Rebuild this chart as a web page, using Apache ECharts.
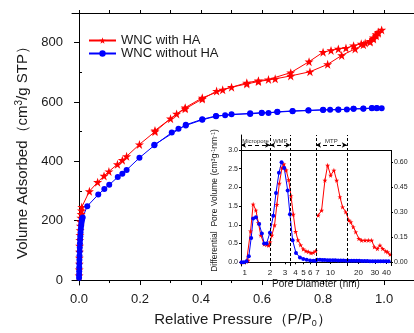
<!DOCTYPE html>
<html><head><meta charset="utf-8">
<script src="https://cdn.jsdelivr.net/npm/echarts@6/dist/echarts.min.js"></script>
<style>html,body{margin:0;padding:0;background:#fff}#c{width:414px;height:333px}</style>
</head><body><div id="c"></div>
<script>
// ---------- Main isotherm data ----------
const seriesNames = ['WNC with HA', 'WNC without HA'];
const redAdsP = [0.0003,0.0006,0.0009,0.0012,0.0016,0.002,0.0025,0.003,0.0036,0.0043,0.005,0.006,0.007,0.008,0.009,0.034,0.061,0.082,0.098,0.126,0.142,0.156,0.198,0.249,0.300,0.320,0.348,0.404,0.451,0.500,0.550,0.588,0.643,0.694,0.757,0.815,0.861,0.905,0.932,0.954,0.965,0.974,0.981,0.992];
const redAdsV = [15,35,55,75,95,115,135,152,168,183,197,210,222,234,246,299,330,351,366,390,404,417,457,500,544,560,577,610,637,650,661,669,678,688,702,727,757,779,793,802,812,823,832,843];
const redDesP = [0.981,0.974,0.965,0.954,0.938,0.925,0.900,0.875,0.850,0.826,0.800,0.754,0.694,0.621,0.588,0.550,0.471,0.404,0.348,0.249];
const redDesV = [836,828,817,805,799,796,790,782,779,774,768,736,699,676,672,665,641,614,581,504];
const blueAdsP = [0.0002,0.0004,0.0006,0.0008,0.001,0.0013,0.0016,0.002,0.0025,0.003,0.0036,0.0043,0.005,0.006,0.007,0.008,0.009,0.010,0.012,0.027,0.063,0.083,0.099,0.127,0.142,0.156,0.198,0.247,0.304,0.326,0.350,0.404,0.449,0.500,0.561,0.599,0.650,0.700,0.752,0.800,0.850,0.900,0.932,0.960,0.976,0.992];
const blueAdsV = [8,18,30,42,55,68,82,96,110,123,136,148,160,172,183,192,200,206,211,249,288,307,321,347,358,371,412,454,497,510,521,540,552,559,560,563,566,569,571,573,574,577,577,579,579,579];
const blueDesP = [0.976,0.960,0.932,0.900,0.878,0.850,0.823,0.800,0.752,0.700,0.650,0.621,0.599,0.561,0.479,0.449,0.404,0.350,0.247];
const blueDesV = [580,580,578,577,575,575,574,574,572,570,567,563,564,562,555,553,542,523,456];

const mainXTicks = [0,0.2,0.4,0.6,0.8,1.0];
const mainXMinorTicks = [0.1,0.3,0.5,0.7,0.9];
const mainXTopTicks = [0,0.1,0.2,0.3,0.4,0.5,0.6,0.7,0.8,0.9,1.0];
const mainYTicks = [0,200,400,600,800];
const mainYMinorTicks = [100,300,500,700,900];

// ---------- Inset: pore size distribution ----------
const psdRedLeftD = [0.913,1.048,1.095,1.17,1.256,1.354,1.45,1.55,1.70,1.82,1.93,2.00,2.10,2.26,2.41,2.58,2.77,2.92,3.11,3.33,3.55,3.78,4.03,4.30,4.62,4.97,5.35,5.71,6.14,6.54,6.99];
const psdRedLeftV = [0.0,0.02,0.05,0.83,1.55,1.39,1.05,0.72,0.48,0.47,0.45,0.54,0.72,0.99,1.54,2.11,2.52,2.62,2.46,2.20,1.77,1.28,0.82,0.59,0.46,0.35,0.30,0.28,0.25,0.26,0.30];
const psdBlueLeftD = [0.913,0.973,1.048,1.116,1.19,1.256,1.354,1.482,1.596,1.70,1.816,1.99,2.18,2.35,2.55,2.74,2.95,3.24,3.45,3.71,4.07,4.54,4.97,5.46,6.0,6.55,6.96];
const psdBlueLeftV = [0.0,0.0,0.03,0.16,0.65,1.17,1.20,1.02,0.77,0.50,0.50,0.79,1.24,1.85,2.39,2.67,2.52,1.92,1.28,0.59,0.25,0.13,0.09,0.07,0.05,0.04,0.04];
const psdRedRightD = [7.39,8.04,8.73,9.33,10.05,10.9,11.66,12.65,13.5,14.6,15.8,16.6,17.6,18.7,20.2,21.6,23.5,25.5,27.7,29.6,31.9,34.0,36.4,39.2,41.2,43.7];
const psdRedRightV = [0.28,0.31,0.49,0.58,0.52,0.55,0.49,0.39,0.33,0.30,0.25,0.24,0.21,0.18,0.14,0.13,0.13,0.13,0.13,0.09,0.08,0.10,0.08,0.065,0.06,0.045];
const psdBlueRightD = [7.2,7.7,8.2,8.7,9.3,9.9,10.6,11.3,12.1,12.9,13.8,14.7,15.7,16.8,17.9,19.1,20.4,21.8,23.3,24.9,26.6,28.4,30.3,32.4,34.6,37.0,39.5,42.2];
const psdBlueRightV = [0.014,0.013,0.012,0.012,0.011,0.011,0.010,0.010,0.009,0.009,0.009,0.008,0.008,0.008,0.007,0.007,0.007,0.006,0.006,0.006,0.005,0.005,0.005,0.005,0.004,0.004,0.004,0.004];

const insetLeftXTicks = [1,2,3,4,5,6,7];
const insetRightXTicks = [7,10,20,30,40];
const insetLeftYTicks = [0,0.5,1.0,1.5,2.0,2.5,3.0];
const insetRightYTicks = [0,0.15,0.30,0.45,0.60];
const poreBounds = [2, 3.5, 15];
const poreLabels = ['Micropore', 'WMP', 'MTP'];

// ---------- helpers ----------
const zip = (a, b) => a.map((v, i) => [v, b[i]]);
const FONT = '"Liberation Sans", Arial, sans-serif';
const TXT = '#1a1a1a';
const STAR = 'path://M50 0L61.8 35.1L98.9 35.1L69 56.9L80.3 92L50 70.2L19.7 92L31 56.9L1.1 35.1L38.2 35.1Z';
const RED = '#ff0000', BLUE = '#0000ff';

// axis ranges
const mainX = [-0.023, 1.098], mainY = [-16.7, 900];
const lX = [0.9, 7.05], rX = [7, 44.7];
const lY = [-0.1, 3.4], rY = [-0.024, 0.762];
const lTop = 3.0, rTop = 0.672, lBr = 3.13, rBr = 0.702;

const lineAx = {show: true, lineStyle: {color: '#000', width: 1}};

const chart = echarts.init(document.getElementById('c'), null, {renderer: 'canvas'});
const dashed = {color: '#000', width: 1, type: [3, 2]};
const solid = {color: '#000', width: 1, type: 'solid'};
const bracket = (a, b, y, txt) => [
  {coord: [a, y], symbol: 'arrow', symbolSize: [4, 5], lineStyle: {color: '#000', width: 1, type: [4, 3]},
   label: {show: true, formatter: txt, position: 'insideMiddleTop', fontSize: 6, color: '#333', fontFamily: FONT, distance: 1}},
  {coord: [b, y], symbol: 'arrow', symbolSize: [4, 5]}
];

chart.setOption({
  animation: false,
  backgroundColor: '#fff',
  textStyle: {fontFamily: FONT},
  grid: [
    {left: 72, top: 13, right: 0, bottom: 45},
    {left: 241, top: 135, width: 75, height: 131},
    {left: 316, top: 135, width: 75, height: 131}
  ],
  legend: {
    data: seriesNames, orient: 'vertical', left: 83, top: 29, itemWidth: 27, itemHeight: 8, itemGap: 0,
    textStyle: {fontSize: 13, color: TXT, fontFamily: FONT}
  },
  xAxis: [
    {type: 'value', gridIndex: 0, min: mainX[0], max: mainX[1], position: 'bottom',
     axisLine: lineAx, splitLine: {show: false},
     axisTick: {show: true, customValues: mainXTicks, length: 5, lineStyle: {color: '#000'}},
     axisLabel: {customValues: mainXTicks, formatter: v => v.toFixed(1), fontSize: 13, color: TXT, margin: 8},
     name: 'Relative Pressure（P/P{sub|0}）', nameLocation: 'middle', nameGap: 26,
     nameTextStyle: {fontSize: 15, color: TXT, rich: {sub: {fontSize: 9, verticalAlign: 'bottom', padding: [8, 0, 0, 0]}}}},
    {type: 'value', gridIndex: 0, min: mainX[0], max: mainX[1], position: 'bottom',
     axisLine: {show: false}, splitLine: {show: false}, axisLabel: {show: false},
     axisTick: {show: true, customValues: mainXMinorTicks, length: 3, lineStyle: {color: '#000'}}},
    {type: 'value', gridIndex: 0, min: mainX[0], max: mainX[1], position: 'top',
     axisLine: lineAx, splitLine: {show: false}, axisLabel: {show: false},
     axisTick: {show: true, customValues: mainXTopTicks, length: 3, lineStyle: {color: '#000'}}},
    {type: 'log', logBase: 10, gridIndex: 1, min: lX[0], max: lX[1],
     axisLine: lineAx, splitLine: {show: false}, minorTick: {show: false},
     axisTick: {show: true, customValues: insetLeftXTicks, length: 2, lineStyle: {color: '#000'}},
     axisLabel: {customValues: insetLeftXTicks, fontSize: 8, color: TXT, margin: 3, hideOverlap: false,
       formatter: v => (v === 7 ? '{s|7}' : String(v)), rich: {s: {fontSize: 8, padding: [0, 7, 0, 0]}}},
     name: 'Pore Diameter (nm)', nameLocation: 'middle', nameGap: 13,
     nameTextStyle: {fontSize: 10, color: TXT, padding: [0, 0, 0, 75]}},
    {type: 'log', logBase: 10, gridIndex: 2, min: rX[0], max: rX[1],
     axisLine: lineAx, splitLine: {show: false}, minorTick: {show: false},
     axisTick: {show: true, customValues: insetRightXTicks, length: 2, lineStyle: {color: '#000'}},
     axisLabel: {customValues: insetRightXTicks, fontSize: 8, color: TXT, margin: 3, showMinLabel: true, hideOverlap: false,
       formatter: v => (v === 7 ? '{s|7}' : String(v)), rich: {s: {fontSize: 8, padding: [0, 0, 0, 3]}}}}
  ],
  yAxis: [
    {type: 'value', gridIndex: 0, min: mainY[0], max: mainY[1],
     axisLine: lineAx, splitLine: {show: false},
     axisTick: {show: true, customValues: mainYTicks, length: 5, lineStyle: {color: '#000'}},
     axisLabel: {customValues: mainYTicks, fontSize: 13, color: TXT, margin: 9},
     name: 'Volume Adsorbed（cm{sup|3}/g STP）', nameLocation: 'middle', nameGap: 40,
     nameTextStyle: {fontSize: 15, color: TXT, rich: {sup: {fontSize: 10, verticalAlign: 'top', padding: [0, 0, 8, 0]}}}},
    {type: 'value', gridIndex: 0, min: mainY[0], max: mainY[1],
     axisLine: {show: false}, splitLine: {show: false}, axisLabel: {show: false},
     axisTick: {show: true, customValues: mainYMinorTicks, length: 3, lineStyle: {color: '#000'}}},
    {type: 'value', gridIndex: 1, min: lY[0], max: lY[1],
     axisLine: lineAx, splitLine: {show: false},
     axisTick: {show: true, customValues: insetLeftYTicks, length: 2, lineStyle: {color: '#000'}},
     axisLabel: {customValues: insetLeftYTicks, formatter: v => v.toFixed(1), fontSize: 7, color: TXT, margin: 3},
     name: 'Differential  Pore Volume (cm{sup|3}g{sup|-1}nm{sup|-1})', nameLocation: 'middle', nameGap: 21,
     nameTextStyle: {fontSize: 8.5, color: TXT, rich: {sup: {fontSize: 5.5, verticalAlign: 'top', padding: [0, 0, 4, 0]}}}},
    {type: 'value', gridIndex: 2, position: 'right', min: rY[0], max: rY[1],
     axisLine: {show: false}, splitLine: {show: false},
     axisTick: {show: true, customValues: insetRightYTicks, length: 2, lineStyle: {color: '#000'}},
     axisLabel: {customValues: insetRightYTicks, formatter: v => v.toFixed(2), fontSize: 7, color: TXT, margin: 3}}
  ],
  series: [
    {name: seriesNames[0], type: 'line', xAxisIndex: 0, yAxisIndex: 0,
     data: zip(redAdsP, redAdsV).concat(zip(redDesP, redDesV)),
     symbol: STAR, symbolSize: 9, lineStyle: {color: RED, width: 1}, itemStyle: {color: RED}},
    {name: seriesNames[1], type: 'line', xAxisIndex: 0, yAxisIndex: 0,
     data: zip(blueAdsP, blueAdsV).concat(zip(blueDesP, blueDesV)),
     symbol: 'circle', symbolSize: 6, lineStyle: {color: BLUE, width: 1}, itemStyle: {color: BLUE}},
    {name: 'psdRedL', type: 'line', xAxisIndex: 3, yAxisIndex: 2, clip: false,
     data: zip(psdRedLeftD, psdRedLeftV), symbol: STAR, symbolSize: 5,
     lineStyle: {color: RED, width: 1}, itemStyle: {color: RED},
     markLine: {silent: true, symbol: 'none', label: {show: false}, lineStyle: dashed,
       data: [
         {xAxis: poreBounds[0]}, {xAxis: poreBounds[1]}, {xAxis: lX[1]},
         [{coord: [lX[0], lTop], lineStyle: solid}, {coord: [lX[1], lTop]}],
         bracket(lX[0], poreBounds[0], lBr, poreLabels[0]),
         bracket(poreBounds[0], poreBounds[1], lBr, poreLabels[1])
       ]}},
    {name: 'psdBlueL', type: 'line', xAxisIndex: 3, yAxisIndex: 2, clip: false,
     data: zip(psdBlueLeftD, psdBlueLeftV), symbol: 'circle', symbolSize: 4,
     lineStyle: {color: BLUE, width: 1}, itemStyle: {color: BLUE}},
    {name: 'psdRedR', type: 'line', xAxisIndex: 4, yAxisIndex: 3, clip: false,
     data: zip(psdRedRightD, psdRedRightV), symbol: STAR, symbolSize: 5,
     lineStyle: {color: RED, width: 1}, itemStyle: {color: RED},
     markLine: {silent: true, symbol: 'none', label: {show: false}, lineStyle: dashed,
       data: [
         {xAxis: poreBounds[2]},
         [{coord: [rX[0], rTop], lineStyle: solid}, {coord: [rX[1], rTop]}],
         [{coord: [rX[1], rY[0]], lineStyle: solid}, {coord: [rX[1], rTop]}],
         bracket(rX[0], poreBounds[2], rBr, poreLabels[2])
       ]}},
    {name: 'psdBlueR', type: 'line', xAxisIndex: 4, yAxisIndex: 3, clip: false,
     data: zip(psdBlueRightD, psdBlueRightV), symbol: 'circle', symbolSize: 4,
     lineStyle: {color: BLUE, width: 1}, itemStyle: {color: BLUE}}
  ]
});
</script></body></html>
